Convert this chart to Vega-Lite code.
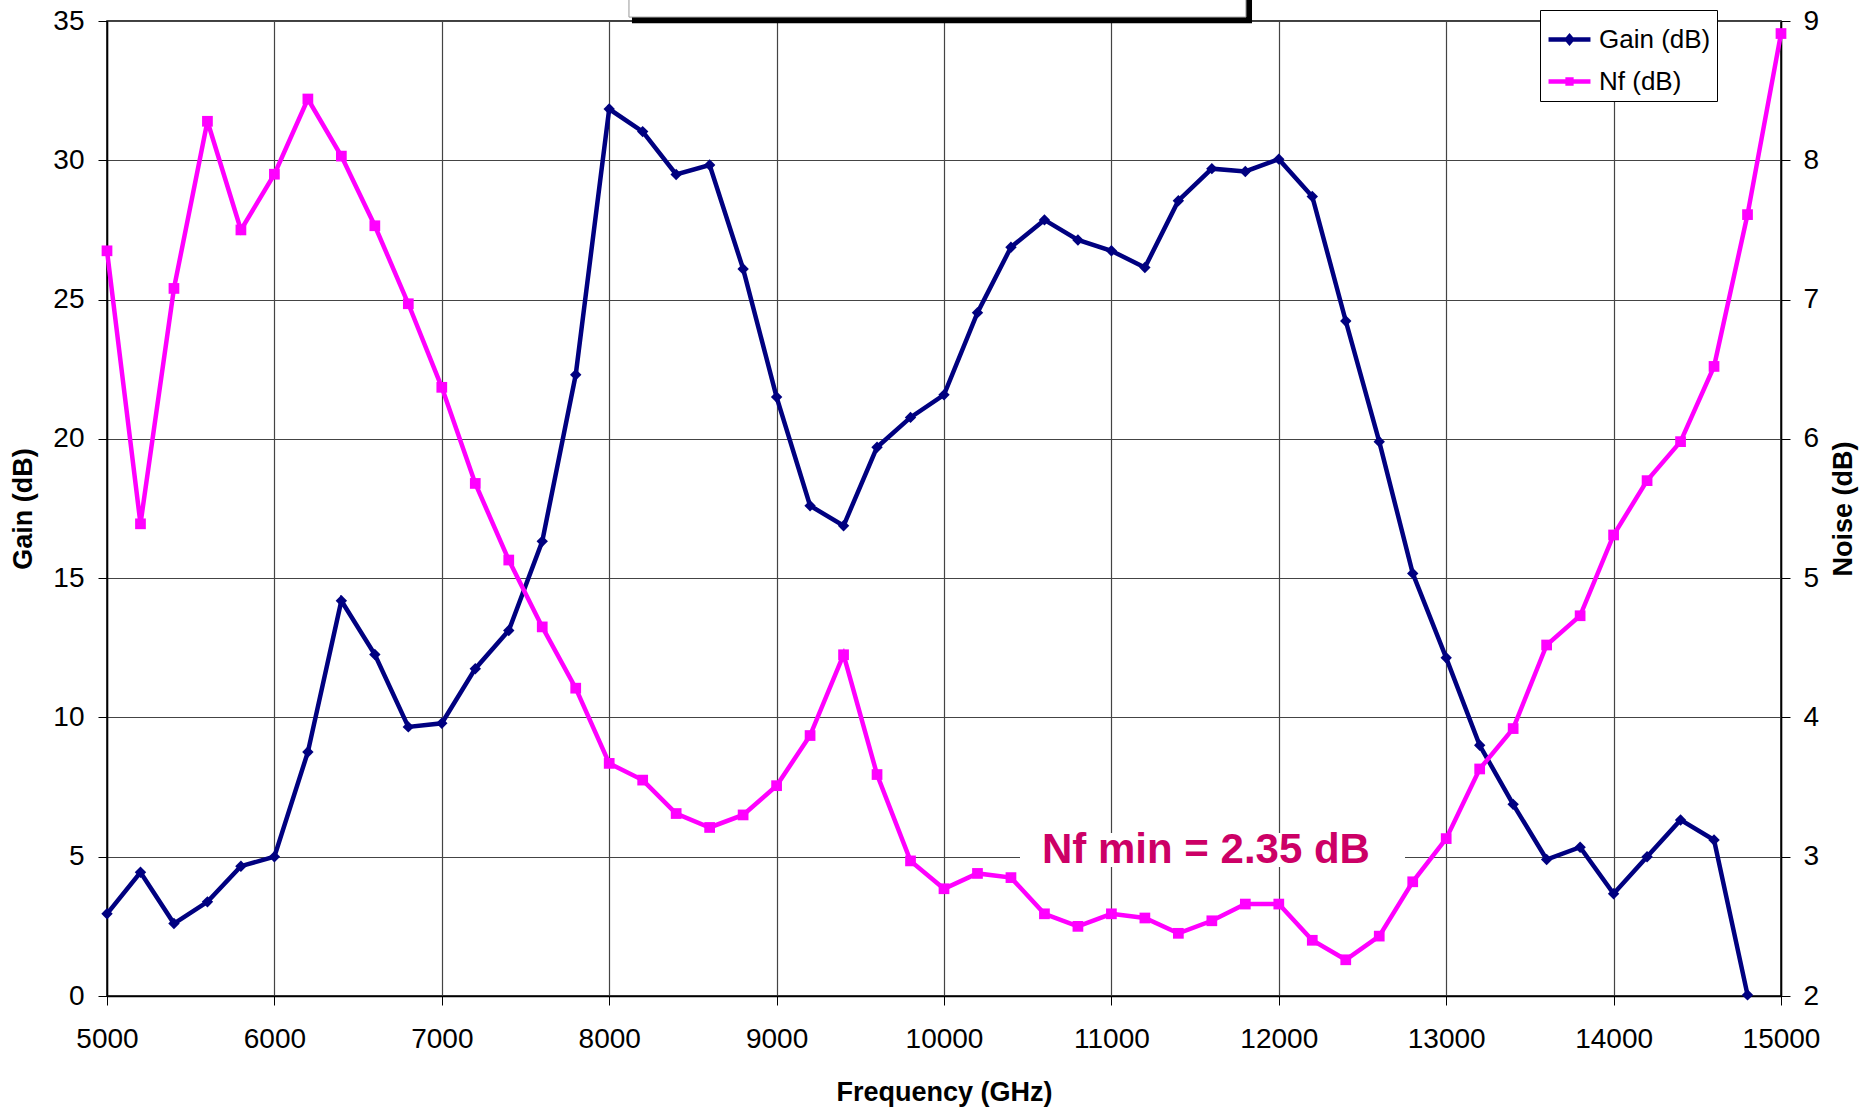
{
  "$schema": "https://vega.github.io/schema/vega-lite/v6.json",
  "width": 1674,
  "height": 975,
  "autosize": {"type": "none"},
  "padding": {"left": 107, "top": 21, "right": 84, "bottom": 113},
  "background": "white",
  "config": {
    "view": {"stroke": "black", "strokeWidth": 1.5},
    "axis": {
      "labelFont": "Liberation Sans",
      "labelFontSize": 28,
      "labelColor": "black",
      "labelFlush": false,
      "titleFont": "Liberation Sans",
      "titleFontSize": 27,
      "titleFontWeight": "bold",
      "titleColor": "black",
      "domainColor": "black",
      "domainWidth": 1.5,
      "tickColor": "black",
      "tickSize": 9,
      "gridColor": "#444444",
      "gridWidth": 1.2,
      "gridOpacity": 1
    },
    "legend": {
      "labelFont": "Liberation Sans",
      "labelFontSize": 26,
      "labelColor": "black"
    }
  },
  "data": {
    "values": [
      {"freq": 5000, "gain": 2.95, "nf": 7.35},
      {"freq": 5200, "gain": 4.44, "nf": 5.39},
      {"freq": 5400, "gain": 2.6, "nf": 7.08},
      {"freq": 5600, "gain": 3.38, "nf": 8.28},
      {"freq": 5800, "gain": 4.66, "nf": 7.5},
      {"freq": 6000, "gain": 5.0, "nf": 7.9},
      {"freq": 6200, "gain": 8.76, "nf": 8.44},
      {"freq": 6400, "gain": 14.19, "nf": 8.03},
      {"freq": 6600, "gain": 12.26, "nf": 7.53},
      {"freq": 6800, "gain": 9.66, "nf": 6.97},
      {"freq": 7000, "gain": 9.79, "nf": 6.37},
      {"freq": 7200, "gain": 11.75, "nf": 5.68},
      {"freq": 7400, "gain": 13.12, "nf": 5.13},
      {"freq": 7600, "gain": 16.32, "nf": 4.65},
      {"freq": 7800, "gain": 22.3, "nf": 4.21},
      {"freq": 8000, "gain": 31.84, "nf": 3.67},
      {"freq": 8200, "gain": 31.03, "nf": 3.55},
      {"freq": 8400, "gain": 29.49, "nf": 3.31},
      {"freq": 8600, "gain": 29.83, "nf": 3.21},
      {"freq": 8800, "gain": 26.1, "nf": 3.3},
      {"freq": 9000, "gain": 21.5, "nf": 3.51},
      {"freq": 9200, "gain": 17.6, "nf": 3.87},
      {"freq": 9400, "gain": 16.88, "nf": 4.45},
      {"freq": 9600, "gain": 19.7, "nf": 3.59},
      {"freq": 9800, "gain": 20.77, "nf": 2.97},
      {"freq": 10000, "gain": 21.58, "nf": 2.77},
      {"freq": 10200, "gain": 24.53, "nf": 2.88},
      {"freq": 10400, "gain": 26.88, "nf": 2.85},
      {"freq": 10600, "gain": 27.86, "nf": 2.59},
      {"freq": 10800, "gain": 27.14, "nf": 2.5},
      {"freq": 11000, "gain": 26.75, "nf": 2.59},
      {"freq": 11200, "gain": 26.15, "nf": 2.56},
      {"freq": 11400, "gain": 28.55, "nf": 2.45},
      {"freq": 11600, "gain": 29.7, "nf": 2.54},
      {"freq": 11800, "gain": 29.6, "nf": 2.66},
      {"freq": 12000, "gain": 30.04, "nf": 2.66},
      {"freq": 12200, "gain": 28.7, "nf": 2.4},
      {"freq": 12400, "gain": 24.23, "nf": 2.26},
      {"freq": 12600, "gain": 19.9, "nf": 2.43},
      {"freq": 12800, "gain": 15.17, "nf": 2.82},
      {"freq": 13000, "gain": 12.14, "nf": 3.13},
      {"freq": 13200, "gain": 9.0, "nf": 3.63},
      {"freq": 13400, "gain": 6.88, "nf": 3.92},
      {"freq": 13600, "gain": 4.9, "nf": 4.52},
      {"freq": 13800, "gain": 5.34, "nf": 4.73},
      {"freq": 14000, "gain": 3.67, "nf": 5.31},
      {"freq": 14200, "gain": 5.0, "nf": 5.7},
      {"freq": 14400, "gain": 6.32, "nf": 5.98},
      {"freq": 14600, "gain": 5.6, "nf": 6.52},
      {"freq": 14800, "gain": 0.04, "nf": 7.61},
      {"freq": 15000, "gain": null, "nf": 8.91}
    ]
  },
  "layer": [
    {
      "data": {"values": [{"label": "Nf min = 2.35 dB"}]},
      "mark": {"type": "rect", "fill": "white"},
      "encoding": {
        "x": {"datum": 10454, "type": "quantitative", "title": "Frequency (GHz)", "scale": {"domain": [5000, 15000], "nice": false, "zero": false}},
        "x2": {"datum": 12754},
        "y": {"datum": 4.63, "type": "quantitative", "scale": {"domain": [0, 35], "nice": false}, "axis": null},
        "y2": {"datum": 5.85}
      }
    },
    {
      "mark": {
        "type": "line",
        "strokeWidth": 4.5,
        "point": {"shape": "diamond", "size": 130, "filled": true}
      },
      "encoding": {
        "x": {
          "field": "freq",
          "type": "quantitative",
          "title": "Frequency (GHz)",
          "scale": {"domain": [5000, 15000], "nice": false, "zero": false},
          "axis": {
            "values": [5000, 6000, 7000, 8000, 9000, 10000, 11000, 12000, 13000, 14000, 15000],
            "format": "d",
            "grid": true,
            "labelPadding": 20,
            "titlePadding": 26
          }
        },
        "y": {
          "field": "gain",
          "type": "quantitative",
          "scale": {"domain": [0, 35], "nice": false},
          "axis": {
            "title": "Gain (dB)",
            "orient": "left",
            "values": [0, 5, 10, 15, 20, 25, 30, 35],
            "grid": true,
            "labelPadding": 14,
            "titlePadding": 15
          }
        },
        "color": {
          "datum": "Gain (dB)",
          "type": "nominal",
          "scale": {"domain": ["Gain (dB)", "Nf (dB)"], "range": ["#000080", "#FF00FF"]},
          "legend": {
            "title": null,
            "orient": "none",
            "legendX": 1433,
            "legendY": -11,
            "padding": 6,
            "rowPadding": 5,
            "labelOffset": 6,
            "symbolSize": 1760,
            "fillColor": "white",
            "strokeColor": "black",
            "encode": {
              "symbols": {
                "update": {
                  "shape": {"signal": "datum.value === 'Gain (dB)' ? 'M-1,0H1M0,-0.14L0.12,0L0,0.14L-0.12,0Z' : 'M-1,0H1M-0.09,-0.09H0.09V0.09H-0.09Z'"},
                  "fill": {"signal": "datum.value === 'Gain (dB)' ? '#000080' : '#FF00FF'"},
                  "stroke": {"signal": "datum.value === 'Gain (dB)' ? '#000080' : '#FF00FF'"},
                  "strokeWidth": {"value": 4.5}
                }
              }
            }
          }
        }
      }
    },
    {
      "mark": {
        "type": "line",
        "strokeWidth": 4.5,
        "point": {"shape": "square", "size": 115, "filled": true}
      },
      "encoding": {
        "x": {"field": "freq", "type": "quantitative", "title": "Frequency (GHz)"},
        "y": {
          "field": "nf",
          "type": "quantitative",
          "scale": {"domain": [2, 9], "nice": false, "zero": false},
          "axis": {
            "title": "Noise (dB)",
            "orient": "right",
            "values": [2, 3, 4, 5, 6, 7, 8, 9],
            "grid": false,
            "titleAngle": 270,
            "titleBaseline": "top",
            "labelPadding": 13,
            "titlePadding": 12
          }
        },
        "color": {"datum": "Nf (dB)", "type": "nominal"}
      }
    },
    {
      "data": {"values": [{"label": "Nf min = 2.35 dB"}]},
      "mark": {
        "type": "text",
        "font": "Liberation Sans",
        "fontSize": 42,
        "fontWeight": "bold",
        "color": "#CC0066",
        "align": "center",
        "baseline": "middle"
      },
      "encoding": {
        "x": {"datum": 11565, "type": "quantitative", "title": "Frequency (GHz)"},
        "y": {"datum": 5.24, "type": "quantitative", "scale": {"domain": [0, 35], "nice": false}, "axis": null},
        "text": {"field": "label"}
      }
    },
    {
      "data": {"values": [{"label": "shadow"}]},
      "mark": {"type": "rect", "fill": "black", "clip": false},
      "encoding": {
        "x": {"datum": 8136, "type": "quantitative", "title": "Frequency (GHz)"},
        "x2": {"datum": 11840},
        "y": {"datum": 34.92, "type": "quantitative", "scale": {"domain": [0, 35], "nice": false}, "axis": null},
        "y2": {"datum": 37}
      }
    },
    {
      "data": {"values": [{"label": "box"}]},
      "mark": {"type": "rect", "fill": "white", "stroke": "#999999", "strokeWidth": 1, "clip": false},
      "encoding": {
        "x": {"datum": 8118, "type": "quantitative", "title": "Frequency (GHz)"},
        "x2": {"datum": 11804},
        "y": {"datum": 35.14, "type": "quantitative", "scale": {"domain": [0, 35], "nice": false}, "axis": null},
        "y2": {"datum": 37}
      }
    }
  ],
  "resolve": {"scale": {"y": "independent"}, "axis": {"y": "independent"}}
}
